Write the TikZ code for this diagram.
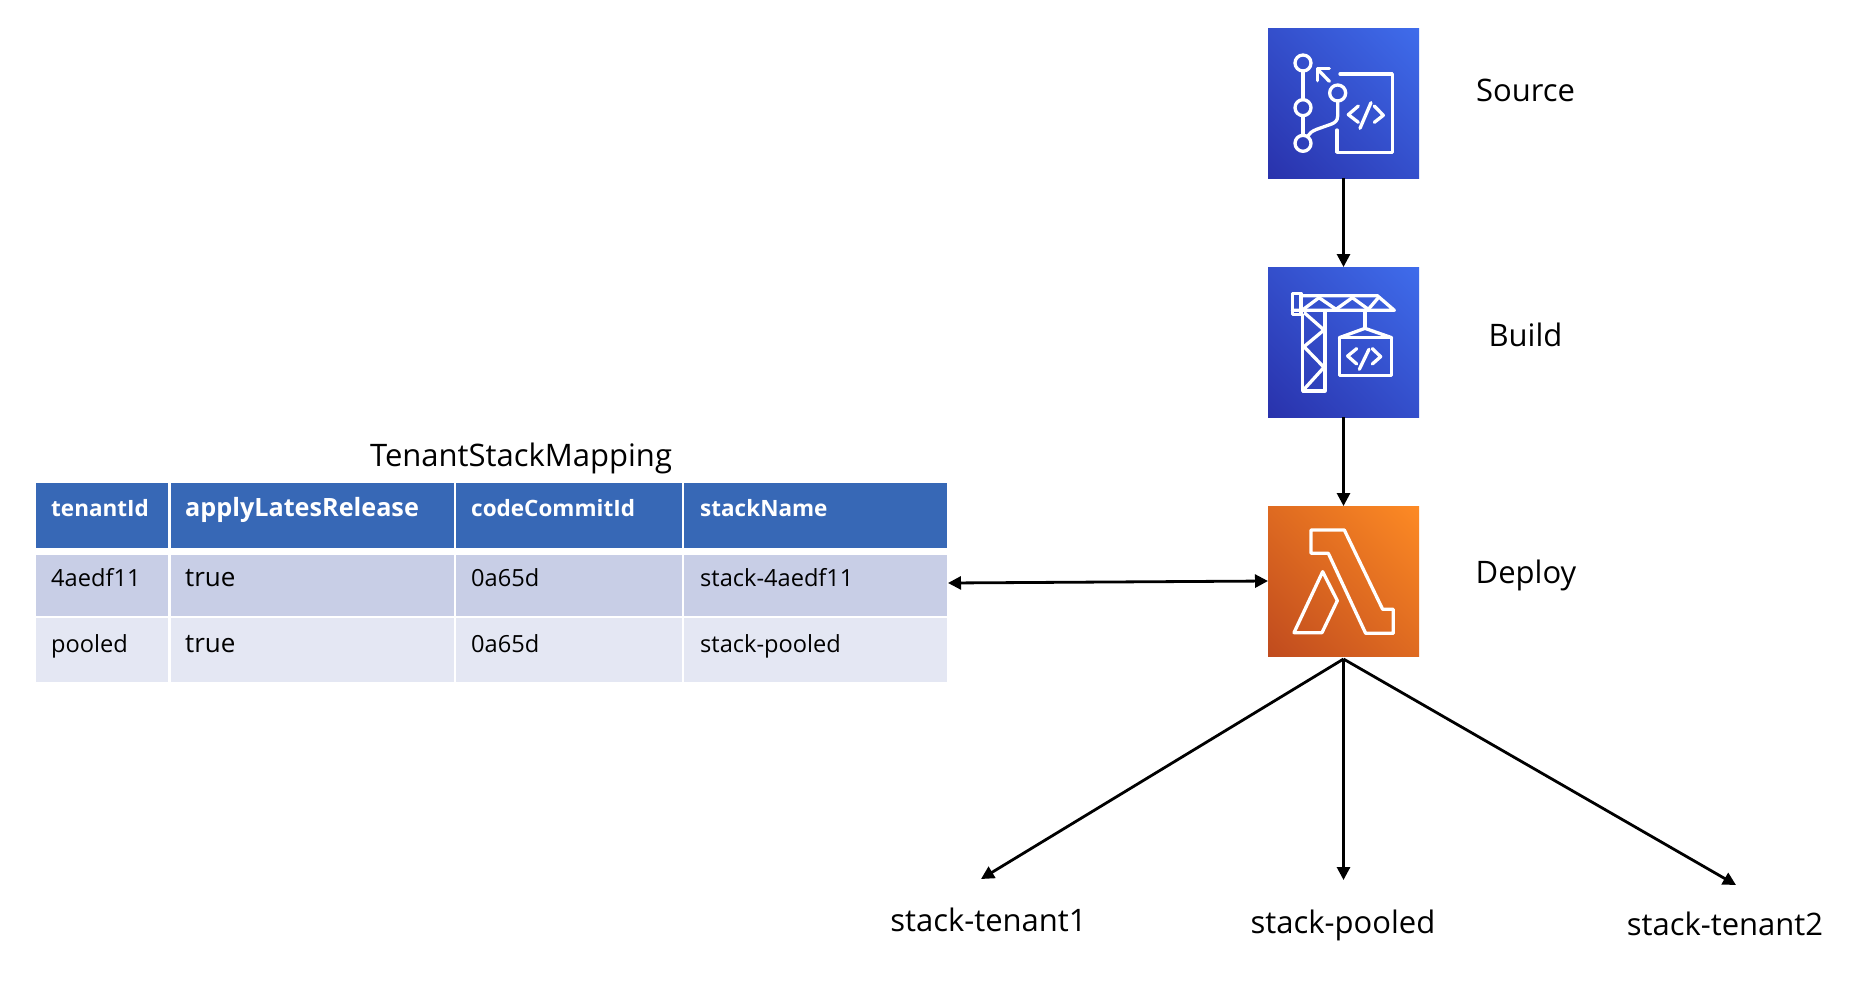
\documentclass[tikz,border=0pt]{standalone}
\usepackage{fontspec}
\setmainfont{Open Sans}
\usetikzlibrary{arrows.meta,positioning}
\definecolor{hdr}{HTML}{3768B6}
\definecolor{rowa}{HTML}{C8CEE6}
\definecolor{rowb}{HTML}{E4E7F3}
\definecolor{bluea}{HTML}{2932AC}
\definecolor{blueb}{HTML}{3F6CEB}
\definecolor{orga}{HTML}{C04B1E}
\definecolor{orgb}{HTML}{FD8A24}
\pgfdeclareverticalshading{iconblue}{100bp}{color(0bp)=(bluea);color(14.65bp)=(bluea);color(85.35bp)=(blueb);color(100bp)=(blueb)}
\pgfdeclareverticalshading{iconorange}{100bp}{color(0bp)=(orga);color(14.65bp)=(orga);color(85.35bp)=(orgb);color(100bp)=(orgb)}
\tikzset{
  icon/.style={minimum width=151pt,minimum height=150pt,inner sep=0pt,outer sep=0pt,anchor=north west,shading angle=-45},
  cell/.style={inner sep=0pt,outer sep=0pt,anchor=north west},
  hd/.style={anchor=base west,inner sep=0pt,text=white,font=\fontsize{22.5}{26}\selectfont\bfseries},
  hdwide/.style={anchor=base west,inner sep=0pt,text=white,font=\fontsize{25.2}{28}\selectfont\bfseries},
  td/.style={anchor=base west,inner sep=0pt,text=black,font=\fontsize{23.6}{26}\selectfont},
  tdwide/.style={anchor=base west,inner sep=0pt,text=black,font=\fontsize{26}{28}\selectfont},
  lbl/.style={anchor=base,inner sep=0pt,text=black,font=\fontsize{31}{36}\selectfont},
  conn/.style={line width=2.8pt,-{Triangle[length=13pt,width=13pt]},black},
  glyph/.style={draw=white,line width=3.3pt,line join=round,line cap=round},
  zoomed/.style={x=0.3333pt,y=-0.3333pt}
}
\begin{document}
\begin{tikzpicture}[x=1pt,y=-1pt]
\useasboundingbox[fill=white] (0,0) rectangle (1871,986);
% table cells
\node[cell,fill=hdr,minimum width=132pt,minimum height=65pt] (h1) at (36,483) {};
\node[cell,fill=hdr,minimum width=283pt,minimum height=65pt] (h2) at (170.5,483) {};
\node[cell,fill=hdr,minimum width=226.5pt,minimum height=65pt] (h3) at (455.5,483) {};
\node[cell,fill=hdr,minimum width=262.5pt,minimum height=65pt] (h4) at (684,483) {};
\node[cell,fill=rowa,minimum width=132pt,minimum height=61pt] (a1) at (36,555) {};
\node[cell,fill=rowa,minimum width=283pt,minimum height=61pt] (a2) at (170.5,555) {};
\node[cell,fill=rowa,minimum width=226.5pt,minimum height=61pt] (a3) at (455.5,555) {};
\node[cell,fill=rowa,minimum width=262.5pt,minimum height=61pt] (a4) at (684,555) {};
\node[cell,fill=rowb,minimum width=132pt,minimum height=64pt] (b1) at (36,618) {};
\node[cell,fill=rowb,minimum width=283pt,minimum height=64pt] (b2) at (170.5,618) {};
\node[cell,fill=rowb,minimum width=226.5pt,minimum height=64pt] (b3) at (455.5,618) {};
\node[cell,fill=rowb,minimum width=262.5pt,minimum height=64pt] (b4) at (684,618) {};
% table text
\node[hd] (th1) at (51,516) {tenantId};
\node[hdwide] (th2) at (185,516) {applyLatesRelease};
\node[hd] (th3) at (471,516) {codeCommitId};
\node[hd] (th4) at (700,516) {stackName};
\node[td] (ta1) at (51,586) {4aedf11};
\node[tdwide] (ta2) at (185,586) {true};
\node[td] (ta3) at (471,586) {0a65d};
\node[td] (ta4) at (700,586) {stack-4aedf11};
\node[td] (tb1) at (51,652) {pooled};
\node[tdwide] (tb2) at (185,652) {true};
\node[td] (tb3) at (471,652) {0a65d};
\node[td] (tb4) at (700,652) {stack-pooled};
\node[lbl] (title) at (521,466) {TenantStackMapping};
% icons
\node[icon,shading=iconblue] (src) at (1268,28) {};
\node[icon,shading=iconblue] (bld) at (1268,267) {};
\node[icon,shading=iconorange] (dep) at (1268,506) {};
% source glyph
\begin{scope}[shift={(1250,10)},zoomed,glyph]
\draw (159,159) circle[radius=24];
\draw (159,293) circle[radius=24];
\draw (159,400) circle[radius=24];
\draw (263,249) circle[radius=24];
\draw (159,183) -- (159,269);
\draw (159,317) -- (159,376);
\draw (238,214) -- (205,180);
\draw (203,212) -- (203,176) -- (238,176);
\draw (263,273) -- (263,318) .. controls (263,332) and (255,338) .. (245,342) -- (200,358) .. controls (185,364) and (178,370) .. (172,380);
\draw (270,192) -- (427,192) -- (427,427) -- (261,427) -- (261,360);
\draw (325,288) -- (295,314) -- (325,337);
\draw (363,278) -- (330,355);
\draw (373,288) -- (400,316) -- (373,337);
\end{scope}
% build glyph
\begin{scope}[shift={(1250,250)},zoomed,glyph]
\draw (127,130) rectangle (153,193);
\draw (153,137) -- (382,137) -- (433,181) -- (127,181);
\draw (160,178) -- (207,143) -- (258,178) -- (307,143) -- (355,178) -- (385,143);
\draw (158,193) -- (158,423) -- (225,423) -- (225,185);
\draw (165,190) -- (222,240) -- (162,290) -- (222,352) -- (162,418);
\draw (345,181) -- (345,235);
\draw (268,263) -- (345,235) -- (425,263);
\draw (268,263) -- (425,263) -- (425,376) -- (268,376) -- cycle;
\draw (320,296) -- (293,318) -- (320,342);
\draw (357,298) -- (328,358);
\draw (367,296) -- (392,320) -- (367,342);
\end{scope}
% deploy glyph
\begin{scope}[shift={(1250,490)},zoomed,glyph]
\draw (183,120) -- (283,120) -- (398,358) -- (430,358) -- (430,430) -- (347,430) -- (235,190) -- (183,190) -- cycle;
\draw (218,245) -- (262,332) -- (216,428) -- (132,428) -- cycle;
\end{scope}
% labels
\node[lbl] (lsrc) at (1525.5,101) {Source};
\node[lbl] (lbld) at (1525.5,346) {Build};
\node[lbl] (ldep) at (1526,583) {Deploy};
\node[lbl] (s1) at (988.5,931) {stack-tenant1};
\node[lbl] (s2) at (1343,933) {stack-pooled};
\node[lbl] (s3) at (1725,935) {stack-tenant2};
% connectors
\coordinate (fan) at (1343.5,659);
\coordinate (t1) at (981,879);
\coordinate (t2) at (1343.5,880);
\coordinate (t3) at (1736,885);
\coordinate (tbl) at (948,583);
\draw[conn] (src.south) -- (bld.north);
\draw[conn] (bld.south) -- (dep.north);
\draw[conn,{Triangle[length=13pt,width=13pt]}-{Triangle[length=13pt,width=13pt]}] (tbl) -- (dep.west);
\draw[conn] (fan) -- (t1);
\draw[conn] (fan) -- (t2);
\draw[conn] (fan) -- (t3);
\end{tikzpicture}
\end{document}
